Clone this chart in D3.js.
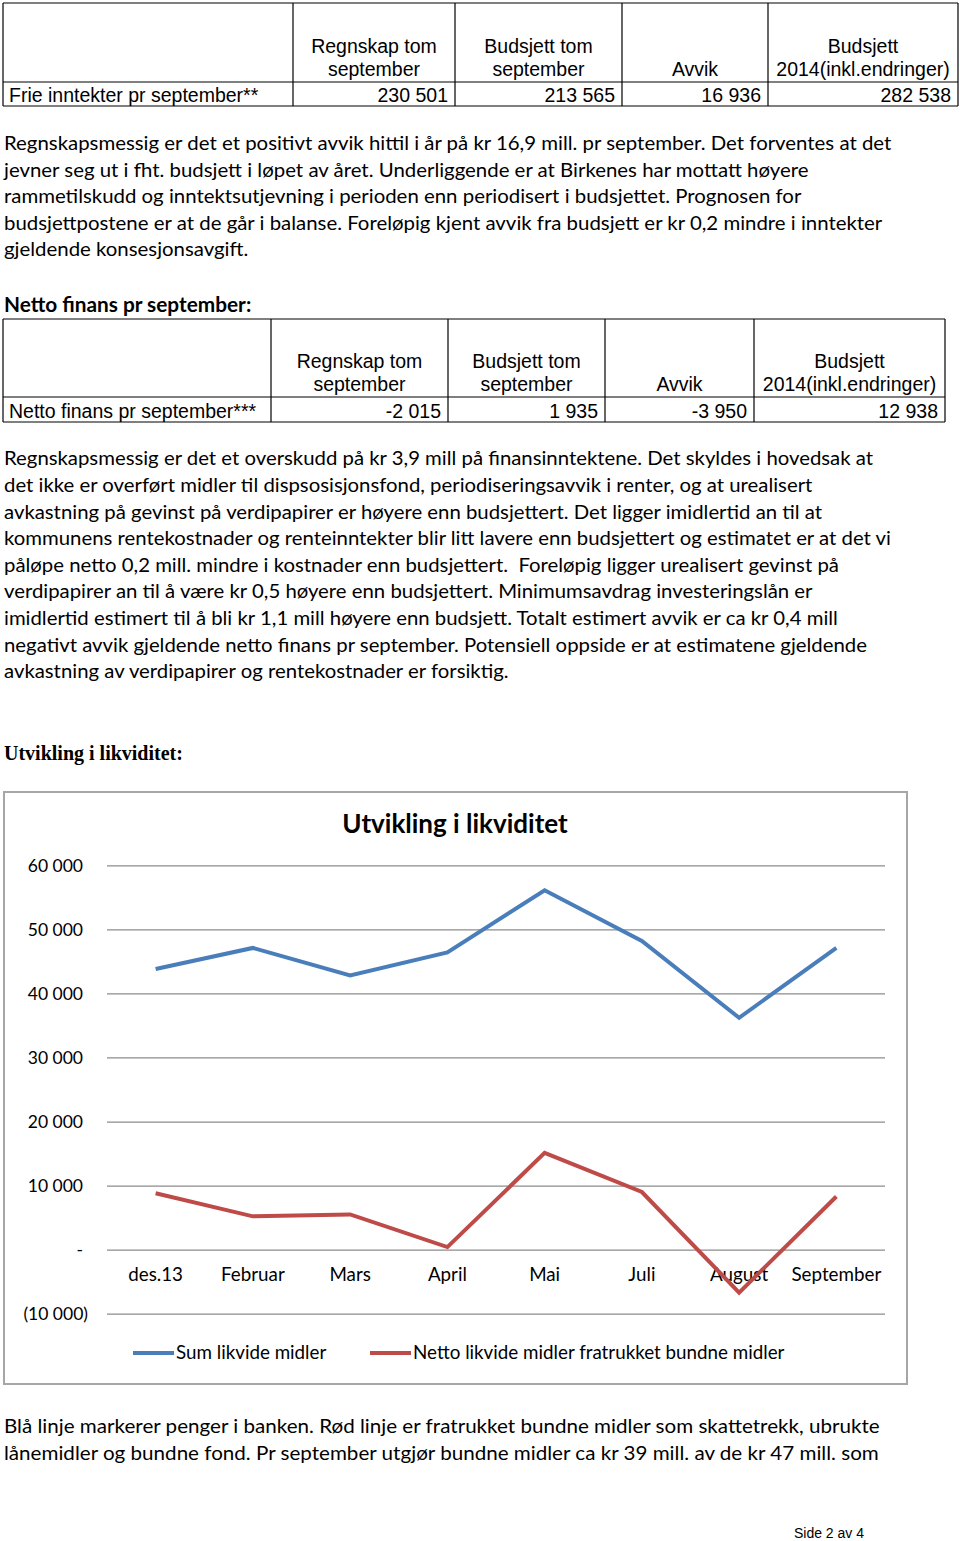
<!DOCTYPE html>
<html>
<head>
<meta charset="utf-8">
<script src="https://cdn.jsdelivr.net/npm/d3@7"></script>
<style>
  body { margin: 0; background: #fff; }
  svg text { fill: #000; }
  .tbl { font-family: "Liberation Sans", Arial, sans-serif; font-size: 19.5px; }
  .body { font-family: Lato, "Noto Sans", sans-serif; font-size: 20px; }
  .chart-txt { font-family: Lato, "Noto Sans", sans-serif; font-size: 17.5px; }
  .chart-lbl { font-family: Lato, "Noto Sans", sans-serif; font-size: 18.8px; }
</style>
</head>
<body>
<svg id="page" width="960" height="1541"></svg>
<script>
// ---- data ----
var months = ["des.13", "Februar", "Mars", "April", "Mai", "Juli", "August", "September"];
var sumLikvide = [43800, 47100, 42800, 46400, 56100, 48200, 36200, 47100];
var nettoLikvide = [8800, 5200, 5500, 400, 15100, 9000, -6700, 8300];
var yTicks = [-10000, 0, 10000, 20000, 30000, 40000, 50000, 60000];
var seriesNames = ["Sum likvide midler", "Netto likvide midler fratrukket bundne midler"];

var tableHead1 = ["", "Regnskap tom", "Budsjett tom", "", "Budsjett"];
var tableHead2 = ["", "september", "september", "Avvik", "2014(inkl.endringer)"];
var frieRow = ["Frie inntekter pr september**", "230 501", "213 565", "16 936", "282 538"];
var nettoRow = ["Netto finans pr september***", "-2 015", "1 935", "-3 950", "12 938"];

var para1 = [
  "Regnskapsmessig er det et positivt avvik hittil i år på kr 16,9 mill. pr september. Det forventes at det",
  "jevner seg ut i fht. budsjett i løpet av året. Underliggende er at Birkenes har mottatt høyere",
  "rammetilskudd og inntektsutjevning i perioden enn periodisert i budsjettet. Prognosen for",
  "budsjettpostene er at de går i balanse. Foreløpig kjent avvik fra budsjett er kr 0,2 mindre i inntekter",
  "gjeldende konsesjonsavgift."
];
var para2 = [
  "Regnskapsmessig er det et overskudd på kr 3,9 mill på finansinntektene. Det skyldes i hovedsak at",
  "det ikke er overført midler til dispsosisjonsfond, periodiseringsavvik i renter, og at urealisert",
  "avkastning på gevinst på verdipapirer er høyere enn budsjettert. Det ligger imidlertid an til at",
  "kommunens rentekostnader og renteinntekter blir litt lavere enn budsjettert og estimatet er at det vi",
  "påløpe netto 0,2 mill. mindre i kostnader enn budsjettert.  Foreløpig ligger urealisert gevinst på",
  "verdipapirer an til å være kr 0,5 høyere enn budsjettert. Minimumsavdrag investeringslån er",
  "imidlertid estimert til å bli kr 1,1 mill høyere enn budsjett. Totalt estimert avvik er ca kr 0,4 mill",
  "negativt avvik gjeldende netto finans pr september. Potensiell oppside er at estimatene gjeldende",
  "avkastning av verdipapirer og rentekostnader er forsiktig."
];
var para3 = [
  "Blå linje markerer penger i banken. Rød linje er fratrukket bundne midler som skattetrekk, ubrukte",
  "lånemidler og bundne fond. Pr september utgjør bundne midler ca kr 39 mill. av de kr 47 mill. som"
];

var svg = d3.select("#page");

// ---- tables ----
function drawTable(cols, rowLines, head1, head2, row) {
  var g = svg.append("g").attr("class", "tbl");
  var left = cols[0], right = cols[cols.length - 1];
  rowLines.forEach(function(y) {
    g.append("line")
      .attr("x1", left).attr("x2", right)
      .attr("y1", y).attr("y2", y)
      .attr("stroke", "#000").attr("stroke-width", 1.2);
  });
  cols.forEach(function(x) {
    g.append("line")
      .attr("x1", x).attr("x2", x)
      .attr("y1", rowLines[0]).attr("y2", rowLines[2])
      .attr("stroke", "#000").attr("stroke-width", 1.2);
  });
  var hy = rowLines[1];
  for (var i = 1; i < cols.length - 1; i++) {
    var cx = (cols[i] + cols[i + 1]) / 2;
    g.append("text").attr("x", cx).attr("y", hy - 29).attr("text-anchor", "middle").text(head1[i]);
    g.append("text").attr("x", cx).attr("y", hy - 6).attr("text-anchor", "middle").text(head2[i]);
  }
  var ry = rowLines[2] - 4;
  g.append("text").attr("x", cols[0] + 6).attr("y", ry).text(row[0]);
  for (var j = 1; j < row.length; j++) {
    g.append("text").attr("x", cols[j + 1] - 7).attr("y", ry).attr("text-anchor", "end").text(row[j]);
  }
}

drawTable([3, 293, 455, 622, 768, 958], [3, 82, 106], tableHead1, tableHead2, frieRow);
drawTable([3, 271, 448, 605, 754, 945], [319, 397, 422], tableHead1, tableHead2, nettoRow);

// ---- body text ----
function drawPara(lines, y0, lead, firstWidth) {
  var g = svg.append("g").attr("class", "body");
  var t = g.selectAll("text").data(lines).enter().append("text")
    .attr("x", 0)
    .attr("y", function(d, i) { return y0 + i * lead; })
    .attr("xml:space", "preserve")
    .text(function(d) { return d; });
  var w = t.nodes()[0].getComputedTextLength();
  g.attr("transform", "translate(4,0) scale(" + (firstWidth / w) + ",1)");
}

drawPara(para1, 150.5, 26.5, 888);
drawPara(para2, 465.5, 26.6, 870);
drawPara(para3, 1433.5, 26.5, 876);

svg.append("text")
  .attr("x", 4).attr("y", 311.5)
  .style("font-family", "Lato, 'Noto Sans', sans-serif")
  .style("font-weight", "bold").style("font-size", "20.8px")
  .text("Netto finans pr september:");

svg.append("text")
  .attr("x", 4).attr("y", 759.5)
  .style("font-family", "'Liberation Serif', 'Times New Roman', serif")
  .style("font-weight", "bold").style("font-size", "20px")
  .text("Utvikling i likviditet:");

svg.append("text")
  .attr("x", 864).attr("y", 1538)
  .attr("text-anchor", "end")
  .style("font-family", "'Liberation Sans', Arial, sans-serif")
  .style("font-size", "14px")
  .text("Side 2 av 4");

// ---- chart ----
var chart = svg.append("g");

chart.append("rect")
  .attr("x", 4).attr("y", 792)
  .attr("width", 903).attr("height", 592)
  .attr("fill", "#fff")
  .attr("stroke", "#a6a6a6").attr("stroke-width", 2);

chart.append("text")
  .attr("x", 455).attr("y", 833)
  .attr("text-anchor", "middle")
  .style("font-family", "Lato, 'Noto Sans', sans-serif")
  .style("font-weight", "bold").style("font-size", "26px")
  .text("Utvikling i likviditet");

var x = d3.scalePoint()
  .domain(months)
  .range([107, 885])
  .padding(0.5);

var y = d3.scaleLinear()
  .domain([-10000, 60000])
  .range([1313.7, 865.3]);

var fmt = d3.formatLocale({ decimal: ",", thousands: " ", grouping: [3], currency: ["", ""] }).format(",.0f");
function tickText(d) {
  if (d === 0) return "-";
  if (d < 0) return "(" + fmt(-d) + ")";
  return fmt(d);
}

// gridlines via axis
var yAxis = chart.append("g")
  .attr("transform", "translate(107,0)")
  .call(d3.axisRight(y).tickValues(yTicks).tickSize(778).tickFormat(""));
yAxis.select(".domain").remove();
yAxis.selectAll(".tick line").attr("stroke", "#8c8c8c").attr("stroke-width", 1.3);

chart.append("g").attr("class", "chart-txt")
  .selectAll("text").data(yTicks).enter().append("text")
  .attr("x", function(d) { return d < 0 ? 88 : 83; })
  .attr("y", function(d) { return y(d); })
  .attr("dy", "0.36em")
  .attr("text-anchor", "end")
  .text(tickText);

var line = d3.line()
  .x(function(d, i) { return x(months[i]); })
  .y(function(d) { return y(d); });

var colors = ["#4a7ebb", "#be4b48"];

// x labels
chart.append("g").attr("class", "chart-lbl")
  .selectAll("text").data(months).enter().append("text")
  .attr("x", function(d) { return x(d); })
  .attr("y", 1281)
  .attr("text-anchor", "middle")
  .text(function(d) { return d; });

[sumLikvide, nettoLikvide].forEach(function(s, i) {
  chart.append("path")
    .datum(s)
    .attr("d", line)
    .attr("fill", "none")
    .attr("stroke", colors[i])
    .attr("stroke-width", 4)
    .attr("stroke-linejoin", "miter");
});

// legend
var legendX = [133, 370];
seriesNames.forEach(function(name, i) {
  chart.append("line")
    .attr("x1", legendX[i]).attr("x2", legendX[i] + 41)
    .attr("y1", 1353).attr("y2", 1353)
    .attr("stroke", colors[i]).attr("stroke-width", 4);
  chart.append("text").attr("class", "chart-lbl")
    .attr("x", legendX[i] + 43).attr("y", 1359)
    .text(name);
});
</script>
</body>
</html>
